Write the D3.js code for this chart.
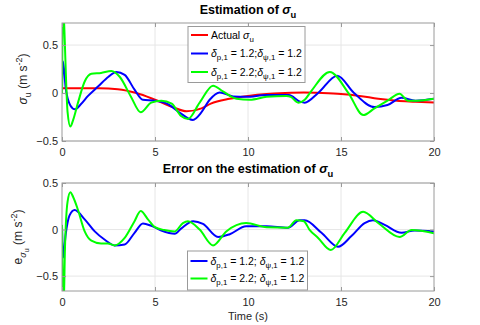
<!DOCTYPE html>
<html>
<head>
<meta charset="utf-8">
<script src="https://cdn.jsdelivr.net/npm/d3@7"></script>
<style>
  body { margin: 0; background: #fff; }
  svg { font-family: "Liberation Sans", Arial, sans-serif; }
</style>
</head>
<body>
<svg id="chart" width="480" height="325"></svg>
<script>
"use strict";

// top panel: estimate of sigma_u
const actualTime = [0, 1, 2, 3, 4, 5, 6, 6.7, 7.5, 8, 9, 10, 11, 12, 13, 14, 15, 16, 17, 18, 19, 20];
const actualSigma = [0.05, 0.05, 0.05, 0.04, 0.0, -0.07, -0.15, -0.19, -0.16, -0.11, -0.06, -0.03, -0.01, 0.0, 0.005, 0.0, -0.01, -0.03, -0.06, -0.08, -0.09, -0.1];

const estTimeA = [0, 0.05, 0.2, 0.45, 0.7, 1.0, 1.4, 1.95, 2.5, 2.92, 3.37, 3.9, 4.35, 5.0, 5.7, 6.3, 7.04, 7.5, 7.94, 8.48, 9.2, 9.9, 11, 12.2, 12.8, 13.05, 13.77, 14.8, 15.7, 16.8, 17.5, 18.25, 19.0, 20];
const estSigmaA = [0, 0.33, 0.05, -0.13, -0.17, -0.12, -0.03, 0.07, 0.17, 0.22, 0.19, 0.035, -0.07, -0.08, -0.115, -0.2, -0.28, -0.2, -0.07, 0.006, -0.035, -0.04, -0.02, -0.02, -0.09, -0.1, 0.0, 0.18, 0.0, -0.146, -0.125, -0.05, -0.08, -0.06];

const estTimeB = [0, 0.06, 0.12, 0.3, 0.45, 0.6, 0.86, 1.22, 1.58, 2.1, 2.65, 3.1, 3.7, 4.23, 4.8, 5.34, 5.9, 6.4, 6.77, 7.4, 8.12, 8.65, 9.38, 10.1, 11, 12.06, 12.3, 12.7, 13.05, 13.4, 14.4, 15.4, 16.2, 16.8, 17.5, 18.15, 18.6, 19.1, 20];
const estSigmaB = [0, 1.0, 0.7, -0.2, -0.35, -0.28, -0.1, 0.12, 0.2, 0.21, 0.23, 0.17, -0.035, -0.2, -0.1, -0.08, -0.11, -0.24, -0.27, -0.1, 0.076, 0.017, -0.06, -0.07, -0.04, -0.03, -0.04, -0.1, -0.07, 0.02, 0.22, 0.0, -0.23, -0.16, -0.08, -0.007, -0.08, -0.08, -0.06];

// bottom panel: estimation error
const errTimeA = [0, 0.06, 0.2, 0.4, 0.68, 1.22, 1.76, 2.3, 2.83, 3.37, 3.9, 4.35, 4.8, 5.34, 6.06, 6.4, 7.05, 7.58, 8.39, 9.02, 9.9, 11, 12.15, 12.78, 13.05, 13.95, 14.84, 15.56, 16.27, 16.72, 17.35, 18.25, 18.96, 20];
const errValueA = [0.05, -0.3, -0.05, 0.15, 0.21, 0.11, -0.02, -0.11, -0.17, -0.16, -0.035, 0.065, 0.04, -0.01, -0.045, 0.01, 0.09, 0.06, -0.08, -0.05, 0.035, 0.035, 0.02, 0.1, 0.1, -0.035, -0.185, -0.07, 0.07, 0.1, 0.05, -0.035, -0.01, -0.02];

const errTimeB = [0, 0.08, 0.16, 0.3, 0.45, 0.6, 0.86, 1.22, 1.58, 2.1, 2.46, 2.83, 3.37, 3.9, 4.23, 4.62, 5.0, 5.5, 6.06, 6.5, 6.77, 7.4, 8.12, 8.83, 9.9, 11, 12.15, 12.6, 13.0, 13.3, 13.77, 14.45, 15.2, 16.19, 17, 18.15, 18.8, 20];
const errValueB = [0.05, -0.9, -0.2, 0.3, 0.4, 0.35, 0.21, -0.02, -0.12, -0.15, -0.15, -0.17, -0.09, 0.09, 0.2, 0.11, 0.025, -0.005, -0.02, 0.07, 0.09, 0.0, -0.17, -0.02, 0.07, 0.025, 0.02, 0.1, 0.09, 0.0, -0.09, -0.22, -0.035, 0.19, 0.07, -0.08, -0.005, -0.04];

const xTicks = [0, 5, 10, 15, 20];
const yTicks = [-0.5, 0, 0.5];

const RED = "#ff0000", BLUE = "#0000ff", GREEN = "#00ff00";

const svg = d3.select("#chart");

const x = d3.scaleLinear().domain([0, 20]).range([62, 434]);

// appends text made of segments; sub/sup handled with dy shifts
function richText(sel, segs, size) {
    let shift = 0;
    segs.forEach(s => {
        const lvl = s.lvl || 0;          // 0 normal, 1 sub, 2 subsub, -1 sup
        const target = lvl === 1 ? size * 0.32 : lvl === 2 ? size * 0.55 : lvl === -1 ? -size * 0.4 : 0;
        const fs = lvl === 0 ? size : lvl === 2 ? size * 0.6 : size * 0.75;
        sel.append("tspan")
            .attr("dy", target - shift)
            .attr("font-size", fs)
            .attr("font-style", s.it ? "italic" : null)
            .text(s.t);
        shift = target;
    });
    return sel;
}

function panel(opt) {
    const y = d3.scaleLinear().domain(opt.yDomain).range([opt.bottom, opt.top]);
    const g = svg.append("g");
    const [x0, x1] = x.range();

    // grid
    g.selectAll(".gx").data(xTicks.slice(1, -1)).enter().append("line")
        .attr("x1", d => x(d)).attr("x2", d => x(d))
        .attr("y1", opt.top).attr("y2", opt.bottom)
        .attr("stroke", "#e6e6e6").attr("stroke-width", 1);
    g.selectAll(".gy").data(yTicks).enter().append("line")
        .attr("x1", x0).attr("x2", x1)
        .attr("y1", d => y(d)).attr("y2", d => y(d))
        .attr("stroke", "#e6e6e6").attr("stroke-width", 1);

    // curves
    const clipId = "clip" + opt.top;
    svg.append("clipPath").attr("id", clipId).append("rect")
        .attr("x", x0).attr("y", opt.top).attr("width", x1 - x0).attr("height", opt.bottom - opt.top);
    const line = d3.line().x(d => x(d[0])).y(d => y(d[1])).curve(d3.curveMonotoneX);
    const lg = g.append("g").attr("clip-path", `url(#${clipId})`);
    opt.series.forEach(s => {
        lg.append("path")
            .datum(d3.zip(s.t, s.v))
            .attr("d", line)
            .attr("fill", "none")
            .attr("stroke", s.color)
            .attr("stroke-width", 2)
            .attr("stroke-linejoin", "round");
    });

    // box + ticks
    g.append("rect").attr("x", x0).attr("y", opt.top)
        .attr("width", x1 - x0).attr("height", opt.bottom - opt.top)
        .attr("fill", "none").attr("stroke", "#9a9a9a").attr("stroke-width", 1);
    const axisX = d3.axisBottom(x).tickValues(xTicks).tickSizeInner(-4).tickSizeOuter(0).tickPadding(7);
    const axisXTop = d3.axisTop(x).tickValues(xTicks).tickSizeInner(-4).tickSizeOuter(0).tickFormat("");
    const axisY = d3.axisLeft(y).tickValues(yTicks).tickSizeInner(-4).tickSizeOuter(0).tickPadding(4)
        .tickFormat(d => d === 0 ? "0" : d3.format(".1f")(d));
    const axisYRight = d3.axisRight(y).tickValues(yTicks).tickSizeInner(-4).tickSizeOuter(0).tickFormat("");
    [[axisX, `translate(0,${opt.bottom})`], [axisXTop, `translate(0,${opt.top})`],
     [axisY, `translate(${x0},0)`], [axisYRight, `translate(${x1},0)`]].forEach(([ax, tr]) => {
        const a = g.append("g").attr("transform", tr).call(ax);
        a.select(".domain").remove();
        a.selectAll("line").attr("stroke", "#9a9a9a");
        a.selectAll("text").attr("fill", "#262626").attr("font-size", 11)
            .attr("font-family", "Liberation Sans, Arial, sans-serif");
    });

    // title
    richText(svg.append("text").attr("x", (x0 + x1) / 2).attr("y", opt.titleY)
        .attr("text-anchor", "middle").attr("font-weight", "bold").attr("fill", "#000"), opt.title, 12.5);

    // y label
    richText(svg.append("text")
        .attr("transform", `translate(${opt.yLabelX},${opt.yLabelY}) rotate(-90)`)
        .attr("text-anchor", "middle").attr("fill", "#262626"), opt.yLabel, 12);

    // legend
    const L = opt.legend;
    const lgd = svg.append("g");
    lgd.append("rect").attr("x", L.x).attr("y", L.y).attr("width", L.w).attr("height", L.h)
        .attr("fill", "#fff").attr("stroke", "#9a9a9a").attr("stroke-width", 1);
    L.items.forEach((it, i) => {
        const cy = L.y + L.first + i * L.step;
        lgd.append("line").attr("x1", L.x + 3).attr("x2", L.x + 20)
            .attr("y1", cy).attr("y2", cy).attr("stroke", it.color).attr("stroke-width", 2);
        richText(lgd.append("text").attr("x", L.x + 23).attr("y", cy + 3.5).attr("fill", "#000"), it.label, 10.5);
    });
}

const sigmaU = [{ t: "σ", it: true }, { t: "u", lvl: 1 }];
const unit = [{ t: " (m s" }, { t: "-2", lvl: -1 }, { t: ")" }];

panel({
    top: 23, bottom: 141, yDomain: [-0.5, 0.73], titleY: 13.5, yLabelX: 27, yLabelY: 79,
    title: [{ t: "Estimation of " }, ...sigmaU],
    yLabel: [...sigmaU, ...unit],
    series: [
        { t: actualTime, v: actualSigma, color: RED },
        { t: estTimeA, v: estSigmaA, color: BLUE },
        { t: estTimeB, v: estSigmaB, color: GREEN }
    ],
    legend: {
        x: 188, y: 26.5, w: 117, h: 56, first: 8.5, step: 18.5,
        items: [
            { color: RED, label: [{ t: "Actual " }, ...sigmaU] },
            { color: BLUE, label: [{ t: "δ", it: true }, { t: "p,1", lvl: 1 }, { t: " = 1.2;" }, { t: "δ", it: true }, { t: "ψ,1", lvl: 1 }, { t: " = 1.2" }] },
            { color: GREEN, label: [{ t: "δ", it: true }, { t: "p,1", lvl: 1 }, { t: " = 2.2;" }, { t: "δ", it: true }, { t: "ψ,1", lvl: 1 }, { t: " = 1.2" }] }
        ]
    }
});

panel({
    top: 183, bottom: 291, yDomain: [-0.66, 0.5], titleY: 173, yLabelX: 22, yLabelY: 237,
    title: [{ t: "Error on the estimation of " }, ...sigmaU],
    yLabel: [{ t: "e" }, { t: "σ", it: true, lvl: 1 }, { t: "u", lvl: 2 }, ...unit],
    series: [
        { t: errTimeA, v: errValueA, color: BLUE },
        { t: errTimeB, v: errValueB, color: GREEN }
    ],
    legend: {
        x: 187.5, y: 251, w: 120, h: 39, first: 10, step: 17.5,
        items: [
            { color: BLUE, label: [{ t: "δ", it: true }, { t: "p,1", lvl: 1 }, { t: " = 1.2; " }, { t: "δ", it: true }, { t: "ψ,1", lvl: 1 }, { t: " = 1.2" }] },
            { color: GREEN, label: [{ t: "δ", it: true }, { t: "p,1", lvl: 1 }, { t: " = 2.2; " }, { t: "δ", it: true }, { t: "ψ,1", lvl: 1 }, { t: " = 1.2" }] }
        ]
    }
});

svg.append("text").attr("x", 248).attr("y", 320).attr("text-anchor", "middle")
    .attr("font-size", 11).attr("fill", "#262626").text("Time (s)");
</script>
</body>
</html>
